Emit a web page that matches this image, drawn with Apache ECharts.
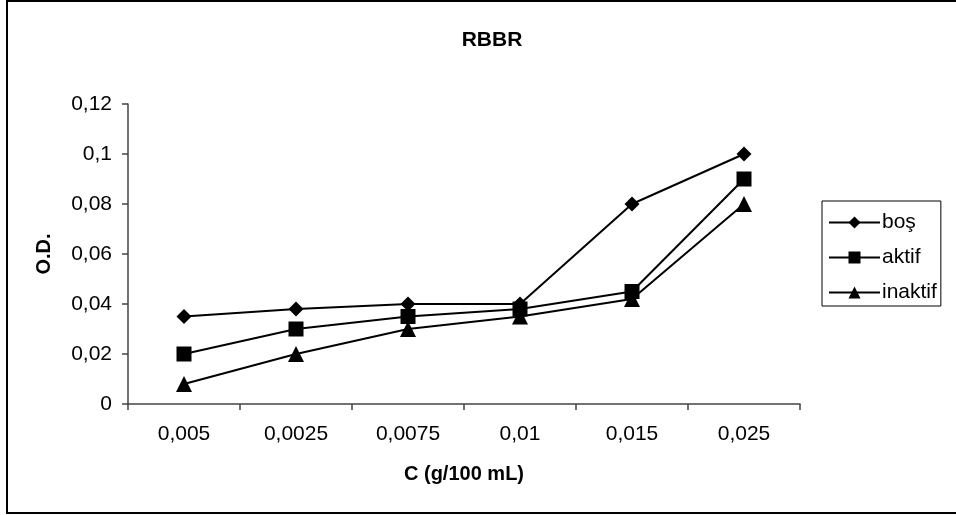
<!DOCTYPE html>
<html lang="tr">
<head>
    <meta charset="UTF-8">
    <title>RBBR</title>
    <style>
        html, body { margin: 0; padding: 0; background: #fff; }
        #main { width: 956px; height: 515px; }
    </style>
    <script src="https://cdn.jsdelivr.net/npm/echarts@6/dist/echarts.min.js"></script>
</head>
<body>
    <div id="main"></div>
    <script>
        // kategoriler (x ekseni)
        var categories = ['0,005', '0,0025', '0,0075', '0,01', '0,015', '0,025'];
        // seriler
        var bos = [0.035, 0.038, 0.04, 0.04, 0.08, 0.1];
        var aktif = [0.02, 0.03, 0.035, 0.038, 0.045, 0.09];
        var inaktif = [0.008, 0.02, 0.03, 0.035, 0.042, 0.08];

        var font = 'Liberation Sans, Arial, sans-serif';

        function mkSeries(name, data, symbol, size) {
            return {
                name: name,
                type: 'line',
                data: data,
                symbol: symbol,
                symbolSize: size,
                lineStyle: { color: '#000', width: 2 },
                itemStyle: { color: '#000' },
                emphasis: { disabled: true }
            };
        }

        var myChart = echarts.init(document.getElementById('main'));
        var option = {
            animation: false,
            title: {
                text: 'RBBR',
                left: 487,
                top: 25,
                textAlign: 'center',
                textStyle: { fontFamily: font, fontSize: 21, fontWeight: 'bold', color: '#000' }
            },
            graphic: [{
                type: 'rect',
                shape: { x: 7, y: 1, width: 960, height: 512 },
                style: { fill: 'none', stroke: '#000', lineWidth: 2 },
                silent: true
            }],
            legend: {
                orient: 'vertical',
                left: 822,
                top: 201,
                width: 125,
                padding: [11, 4, 3, 6],
                borderColor: '#000',
                borderWidth: 1,
                itemWidth: 51,
                itemHeight: 15,
                itemGap: 14,
                textStyle: { fontFamily: font, fontSize: 21, color: '#000', padding: [0, 0, 0, -3] },
                data: ['boş', 'aktif', 'inaktif']
            },
            grid: { left: 128, right: 156, top: 104, bottom: 111 },
            xAxis: {
                type: 'category',
                data: categories,
                name: 'C (g/100 mL)',
                nameLocation: 'middle',
                nameGap: 60,
                nameTextStyle: { fontFamily: font, fontSize: 20, fontWeight: 'bold', color: '#000' },
                axisLine: { lineStyle: { color: '#444', width: 1.5 } },
                axisTick: { show: true, length: 6, lineStyle: { color: '#444', width: 1.5 } },
                axisLabel: { fontFamily: font, fontSize: 21, color: '#000', margin: 20 },
                splitLine: { show: false }
            },
            yAxis: {
                type: 'value',
                min: 0,
                max: 0.12,
                interval: 0.02,
                name: 'O.D.',
                nameLocation: 'middle',
                nameGap: 74,
                nameTextStyle: { fontFamily: font, fontSize: 20, fontWeight: 'bold', color: '#000' },
                axisLine: { show: true, lineStyle: { color: '#444', width: 1.5 } },
                axisTick: { show: true, length: 6, lineStyle: { color: '#444', width: 1.5 } },
                axisLabel: {
                    fontFamily: font, fontSize: 21, color: '#000', margin: 16,
                    formatter: function (v) { return String(+v.toFixed(3)).replace('.', ','); }
                },
                splitLine: { show: false }
            },
            series: [
                mkSeries('boş', bos, 'diamond', 15),
                mkSeries('aktif', aktif, 'rect', 15),
                mkSeries('inaktif', inaktif, 'triangle', 16)
            ]
        };
        myChart.setOption(option);
    </script>
</body>
</html>
